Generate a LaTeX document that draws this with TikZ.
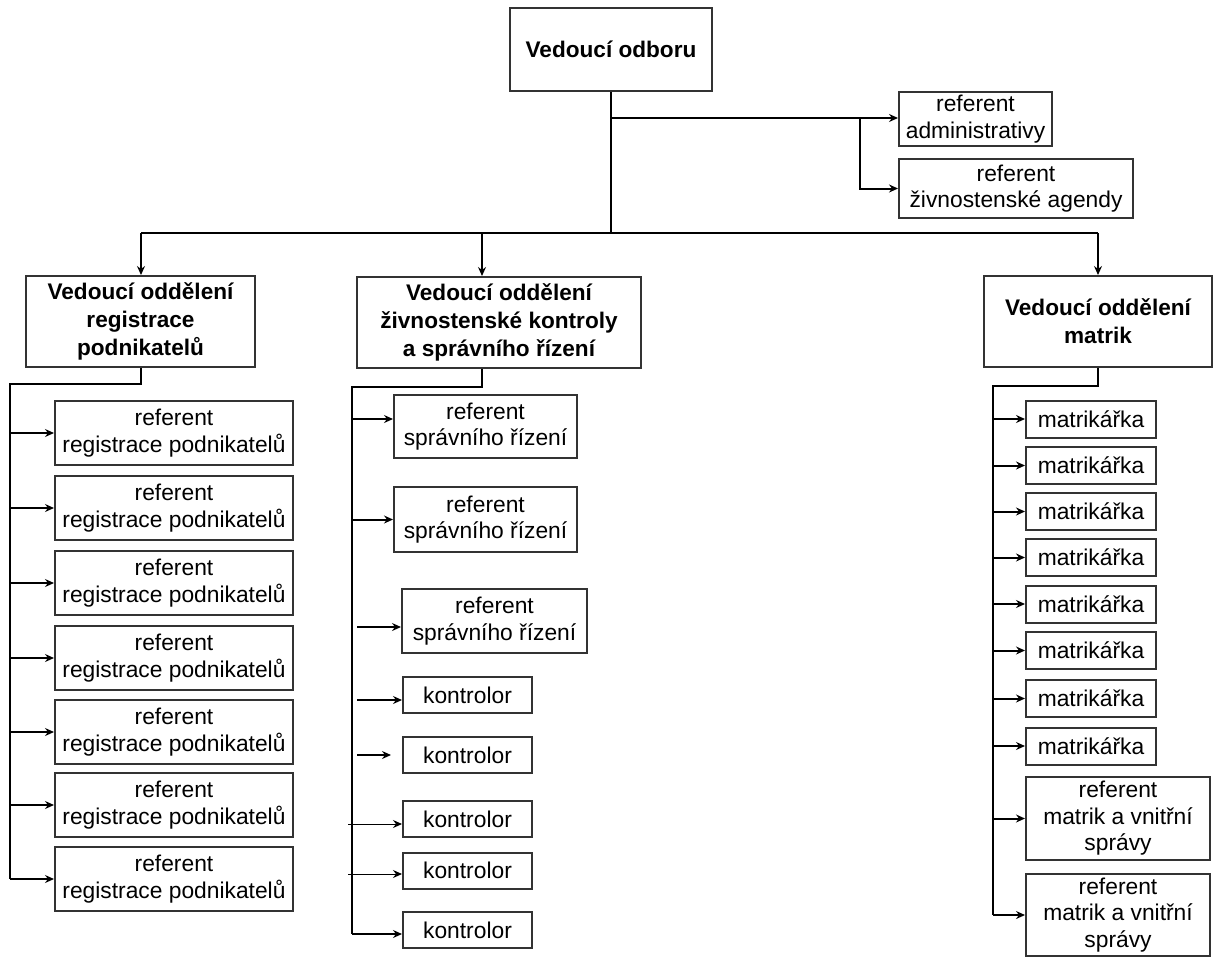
\documentclass[tikz,border=0pt]{standalone}
\usepackage{fontspec}
\setmainfont{Liberation Sans}
\usetikzlibrary{arrows.meta}
\tikzset{
  refbox/.style={draw=black!80, line width=1pt, inner sep=0pt, align=center,
    font=\fontsize{11.4}{13.3}\selectfont},
  headbox/.style={refbox, font=\fontsize{11.3}{14}\selectfont\bfseries},
  conn/.style={line width=1pt},
  arr/.style={conn, -{Stealth[length=4.5pt,width=4pt,inset=1.5pt]}},
  thinarr/.style={arr, line width=0.5pt},
}
\begin{document}
\begin{tikzpicture}[x=0.5pt,y=-0.5pt]
  \useasboundingbox (0,0) rectangle (1214,958);
  \pgfmathsetmacro{\busy}{233}
  \pgfmathsetmacro{\spy}{118}
  % vedeni
  \node[headbox, minimum width=101pt, minimum height=41.5pt] (odbor) at (611,49.5) {Vedoucí odboru};
  \node[refbox, minimum width=76.5pt, minimum height=27pt] (admin) at (975.5,119) {referent\\administrativy};
  \node[refbox, minimum width=117pt, minimum height=29.5pt] (agenda) at (1016,188.5) {referent\\živnostenské agendy};
  \node[headbox, minimum width=114.5pt, minimum height=45.5pt] (oddreg) at (140.5,321.5) {Vedoucí oddělení\\registrace\\podnikatelů};
  \node[headbox, minimum width=142pt, minimum height=45.5pt] (oddziv) at (499,322.5) {Vedoucí oddělení\\živnostenské kontroly\\a správního řízení};
  \node[headbox, minimum width=114pt, minimum height=45.5pt] (oddmat) at (1098,321.5) {Vedoucí oddělení\\matrik};
  \coordinate (sp) at (611,\spy);
  \coordinate (sb) at (860,\spy);
  \coordinate (bus) at (611,\busy);
  \coordinate (busL) at (141,\busy);
  \coordinate (busM) at (482,\busy);
  \coordinate (busR) at (1098,\busy);
  \draw[conn] (odbor.south) -- (bus);
  \draw[arr] (sp) -- (sp -| admin.west);
  \draw[arr] (sb) |- (agenda.west);
  \draw[conn] (busL) -- (busR);
  \draw[arr] (busL) -- (busL |- oddreg.north);
  \draw[arr] (busM) -- (busM |- oddziv.north);
  \draw[arr] (busR) -- (oddmat.north);
  % registrace
  \coordinate (lt) at (9.5,384);
  \foreach \y [count=\i] in {433,508,583,658,732,805,879}
    \node[refbox, minimum width=119pt, minimum height=32pt] (reg\i) at (174,\y) {referent\\registrace podnikatelů};
  \draw[conn] (oddreg.south) |- (lt) -- (lt |- reg7.west);
  \foreach \i in {1,...,7} \draw[arr] (lt |- reg\i.west) -- (reg\i.west);
  % zivnostenska kontrola
  \coordinate (mt) at (352,387);
  \node[refbox, minimum width=91.5pt, minimum height=31.5pt] (spr1) at (485.5,426.5) {referent\\správního řízení};
  \node[refbox, minimum width=91.5pt, minimum height=32.5pt] (spr2) at (485.5,519.5) {referent\\správního řízení};
  \node[refbox, minimum width=92.5pt, minimum height=32pt] (spr3) at (494.5,621) {referent\\správního řízení};
  \foreach \y [count=\i] in {695,755,819,870.5,930}
    \node[refbox, minimum width=64.5pt, minimum height=18pt] (kon\i) at (467.5,\y) {kontrolor};
  \coordinate (a1) at ([yshift=3.75pt]spr1.west);
  \coordinate (a3) at ([yshift=-3pt]spr3.west);
  \coordinate (a4) at ([yshift=-2.5pt]kon1.west);
  \coordinate (a6) at ([yshift=-2.5pt]kon3.west);
  \coordinate (a7) at ([yshift=-1.75pt]kon4.west);
  \coordinate (a8) at ([yshift=-2pt]kon5.west);
  \draw[conn] (busM |- oddziv.south) |- (mt) -- (mt |- a8);
  \draw[arr] (mt |- a1) -- (a1);
  \draw[arr] (mt |- spr2.west) -- (spr2.west);
  \draw[arr, shorten <=2.5pt] (mt |- a3) -- (a3);
  \draw[arr, shorten <=2.5pt] (mt |- a4) -- (a4);
  \draw[arr, shorten <=2.5pt, shorten >=5.5pt] (mt |- kon2.west) -- (kon2.west);
  \draw[thinarr, shorten <=-2pt] (mt |- a6) -- (a6);
  \draw[thinarr, shorten <=-2pt] (mt |- a7) -- (a7);
  \draw[arr] (mt |- a8) -- (a8);
  % matriky
  \coordinate (rt) at (993,386);
  \foreach \y [count=\i] in {419,465.5,511.5,557.5,604,650.5,698.5,746}
    \node[refbox, minimum width=65pt, minimum height=18.5pt] (mat\i) at (1091,\y) {matrikářka};
  \node[refbox, minimum width=92pt, minimum height=41.5pt] (vnit1) at (1118,818.5) {referent\\matrik a vnitřní\\správy};
  \node[refbox, minimum width=92pt, minimum height=41pt] (vnit2) at (1118,915) {referent\\matrik a vnitřní\\správy};
  \draw[conn] (oddmat.south) |- (rt) -- (rt |- vnit2.west);
  \foreach \n in {mat1,mat2,mat3,mat4,mat5,mat6,mat7,mat8,vnit1,vnit2}
    \draw[arr] (rt |- \n.west) -- (\n.west);
\end{tikzpicture}
\end{document}
